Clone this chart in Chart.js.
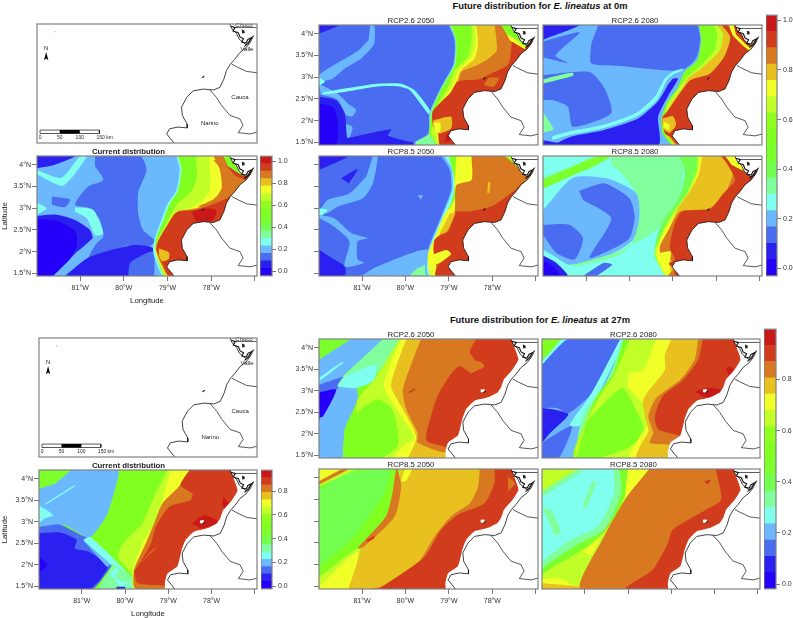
<!DOCTYPE html>
<html>
<head>
<meta charset="utf-8">
<title>Future distribution of E. lineatus</title>
<script src="https://cdn.jsdelivr.net/npm/chart.js@4/dist/chart.umd.js"></script>
<style>
  html, body { margin: 0; padding: 0; background: #fff; }
  body { position: relative; width: 793px; height: 618px; overflow: hidden; font-family: "Liberation Sans", Arial, sans-serif; }
  canvas { position: absolute; }
  .head { position: absolute; left: 340px; width: 400px; text-align: center; font-size: 9.4px; font-weight: bold; color: #111; line-height: 12px; }
</style>
</head>
<body>
<div class="head" style="top:0px">Future distribution for <i>E. lineatus</i> at 0m</div>
<div class="head" style="top:314px">Future distribution for <i>E. lineatus</i> at 27m</div>
<script>
// band colours, low to high
const bandColors = ['#2500f8', '#2a20f0', '#4a6cf0', '#6cb8ff', '#80ffee', '#80ff9c', '#72ff50', '#7cff2c',
    '#80ff20', '#90ff20', '#c0ff28', '#f0ff28', '#e8c020', '#d87820', '#d03c1c', '#c81818'];

const lonMin = -81.99, lonMax = -76.95, latMin = 1.44, latMax = 4.2;
const lonTicks = [-81, -80, -79, -78, -77];
const lonLabels = ['81°W', '80°W', '79°W', '78°W', ''];
const latTicks = [4, 3.5, 3, 2.5, 2, 1.5];
const latLabels = ['4°N', '3.5°N', '3°N', '2.5°N', '2°N', '1.5°N'];

// coastline and department borders, lon,lat pairs
const coast = [-77.58,4.21, -77.52,4.08, -77.42,3.98, -77.36,3.85, -77.28,3.78, -77.2,3.72, -77.12,3.82, -77.03,3.93,
    -77.1,3.78, -77.2,3.65, -77.34,3.54, -77.46,3.38, -77.56,3.27, -77.65,3.12, -77.71,2.92, -77.8,2.73, -77.95,2.67,
    -78.18,2.69, -78.41,2.65, -78.56,2.5, -78.68,2.27, -78.66,2.08, -78.55,1.88, -78.55,1.79, -78.76,1.81, -78.95,1.77,
    -79.02,1.65, -78.93,1.54, -78.85,1.44];
const coastDetail = [-77.55,4.15, -77.45,4.12, -77.5,4.04, -77.38,4.0, -77.34,3.9, -77.26,3.86, -77.3,3.78, -77.2,3.76,
    -77.16,3.84, -77.08,3.88, -77.14,3.76, -77.24,3.68];
const valleBorder = [-77.53,3.27, -77.42,3.21, -77.19,3.1, -76.95,3.07];
const naranoBorder = [-78.03,2.67, -77.88,2.5, -77.76,2.31, -77.57,2.08, -77.34,2.0, -77.27,1.85, -77.38,1.68, -77.11,1.65, -76.95,1.69];
const chocoBorder = [-77.5,4.12, -76.95,4.12];
const chocoIsle = [-77.3,4.07, -77.24,4.05, -77.23,3.99, -77.29,3.98];
const gorgona = [-78.21,2.95, -78.16,2.99];

// limit of the 27 m layer, offshore of the coast
const shelf27 = [-77.57,4.21, -77.4,3.73, -77.53,3.5, -77.73,3.27, -77.8,3.08, -77.88,2.96, -78.1,2.85, -78.41,2.77,
    -78.6,2.58, -78.69,2.35, -78.79,1.97, -79.02,1.8, -79.08,1.58, -79.06,1.44];
const bay27 = [-78.27,3.03, -78.18,3.04, -78.18,2.95, -78.27,2.97];

// scale bar and north arrow of the location maps
const scaleBox = [-81.92,1.74, -80.56,1.74, -80.56,1.66, -81.92,1.66];
const scaleBlack = [-81.47,1.74, -81.01,1.74, -81.01,1.66, -81.47,1.66];
const northArrow = [-81.78,3.55, -81.73,3.36, -81.78,3.4, -81.83,3.36];
const placeNames = ['Choco', 'Valle', 'Cauca', 'Narino', 'N', '0', '50', '100', '150 km'];
const placeLons = [-77.25, -77.18, -77.34, -78.03, -81.78, -81.92, -81.47, -81.01, -80.44];
const placeLats = [4.17, 3.61, 2.5, 1.89, 3.64, 1.57, 1.57, 1.57, 1.57];

// probability zones: [band, lon,lat pairs, 1 = runs on east to the edge]
const whole = [lonMin,latMax, lonMax,latMax, lonMax,latMin, lonMin,latMin];

const cur0 = [
    [3, whole],
    [1, [-81.99,4.2, -81.12,4.2, -81.58,4.0, -81.99,3.92]],
    [4, [-81.99,3.88, -81.43,3.7, -81.0,4.2, -80.84,4.2, -81.39,3.52, -81.99,3.78]],
    [4, [-81.99,3.12, -81.77,3.0, -81.99,2.85]],
    [2, [-81.65,3.27, -81.23,3.2, -81.35,3.02, -81.65,3.08]],
    [2, [-80.66,4.2, -79.63,4.2, -79.48,3.88, -79.67,3.38, -79.67,2.88, -79.56,2.5, -79.29,2.25, -79.48,2.08, -79.98,2.13,
        -80.55,1.77, -80.82,1.81, -80.63,2.19, -80.47,2.35, -80.55,2.73, -80.78,3.0, -81.12,3.08, -80.82,3.5, -80.47,3.65, -80.66,3.96]],
    [4, [-81.12,3.02, -80.7,2.96, -80.47,2.42, -80.66,2.38, -80.85,2.77, -81.12,2.92]],
    [1, [-81.99,2.82, -81.54,2.85, -81.12,2.73, -80.78,2.5, -80.72,2.28, -81.12,1.96, -81.58,1.44, -81.99,1.44]],
    [0, [-81.99,2.75, -81.5,2.7, -81.1,2.45, -81.1,2.05, -81.62,1.44, -81.99,1.44]],
    [1, [-81.35,1.44, -80.78,1.88, -79.8,2.15, -79.33,2.08, -79.37,1.65, -79.48,1.44]],
    [2, [-79.9,1.44, -79.85,1.75, -79.33,2.0, -79.3,1.44]],
    [3, [-81.62,1.44, -80.72,2.3, -80.62,2.28, -81.5,1.44]],
    [4, [-78.8,4.2, -78.72,3.9, -78.8,3.4, -79.0,3.1, -79.15,2.7, -79.3,2.27, -79.33,2.0, -79.22,1.65, -79.1,1.44], 1],
    [8, [-78.76,4.2, -78.68,3.9, -78.76,3.4, -78.95,3.1, -79.1,2.7, -79.27,2.27, -79.27,2.0, -79.17,1.65, -79.07,1.44], 1],
    [10, [-78.34,4.2, -78.34,3.65, -78.49,3.35, -78.76,3.12, -78.91,2.88, -79.06,2.58, -79.23,2.27, -79.25,2.0, -79.15,1.65, -79.05,1.44], 1],
    [11, [-78.05,4.2, -78.02,3.5, -78.18,3.19, -78.49,3.0, -78.79,2.92, -78.95,2.65, -79.18,2.31, -79.29,2.08, -79.18,1.73, -78.98,1.44], 1],
    [13, [-77.95,4.2, -77.8,3.88, -77.76,3.46, -77.95,3.19, -78.26,3.02, -78.49,2.97, -78.76,2.93, -78.95,2.63, -79.2,2.28, -79.27,2.08, -79.15,1.72, -78.97,1.44], 1],
    [14, [-77.95,4.2, -77.72,4.2, -77.62,3.95, -77.45,3.75, -77.2,3.62, -77.4,3.42, -77.65,3.22, -78.02,3.07, -78.4,2.95, -78.8,2.9,
        -79.0,2.62, -79.2,2.27, -79.25,2.03, -79.1,1.7, -78.95,1.44], 1],
    [13, [-77.95,4.1, -77.78,3.9, -77.72,3.45, -77.95,3.2, -78.3,3.04, -78.1,3.04, -77.82,3.2, -77.62,3.4, -77.62,3.85, -77.76,4.1]],
    [15, [-78.45,2.92, -78.1,3.0, -77.88,2.95, -77.97,2.72, -78.35,2.7]],
    [12, [-79.2,2.07, -78.97,1.98, -78.97,1.83, -79.12,1.78, -79.2,1.9]],
    [8, [-77.72,4.2, -77.55,4.2, -77.38,3.92, -77.2,3.75, -77.3,3.76, -77.62,3.97]],
];

const rcp26y50 = [
    [2, whole],
    [1, [-81.99,4.2, -81.52,4.2, -81.99,4.0]],
    [3, [-80.81,4.2, -80.72,4.2, -80.72,3.77, -81.02,3.43, -81.4,3.2, -81.7,2.95, -81.99,2.92, -81.99,3.05, -81.65,3.28, -81.4,3.42, -81.1,3.6, -80.85,3.85]],
    [3, [-81.99,2.85, -81.56,2.62, -81.33,2.4, -81.14,2.25, -81.22,2.1, -81.37,2.13, -81.56,2.48, -81.95,2.6]],
    [3, [-81.45,1.95, -81.22,1.85, -81.3,1.6, -81.42,1.6]],
    [1, [-81.99,2.55, -81.6,2.47, -81.4,2.17, -81.35,1.65, -81.3,1.44, -81.99,1.44]],
    [1, [-81.4,1.58, -80.33,1.8, -80.4,1.65, -79.65,1.44, -81.4,1.44]],
    [0, [-81.99,2.4, -81.65,2.3, -81.55,1.9, -81.6,1.44, -81.99,1.44]],
    [4, [-81.9,2.65, -81.4,2.74, -80.64,2.85, -80.1,2.85, -79.79,2.7, -79.41,2.2, -79.45,2.13, -79.9,2.7, -80.18,2.79, -80.6,2.79, -81.4,2.66, -81.9,2.6]],
    [4, [-81.99,3.0, -81.85,2.9, -81.99,2.8]],
    [3, [-79.0,4.2, -78.87,3.85, -78.9,3.3, -79.18,2.78, -79.45,2.17, -79.48,1.7, -79.8,1.5, -79.8,1.44], 1],
    [5, [-78.98,4.2, -78.85,3.85, -78.88,3.3, -79.16,2.78, -79.43,2.17, -79.46,1.7, -79.75,1.52, -79.75,1.44], 1],
    [8, [-78.95,4.2, -78.83,3.85, -78.85,3.3, -79.14,2.78, -79.39,2.2, -79.45,1.7, -79.35,1.55, -79.3,1.44], 1],
    [10, [-78.48,4.2, -78.48,3.85, -78.56,3.47, -78.87,3.16, -79.02,2.78, -79.33,2.24, -79.37,1.94, -79.41,1.7, -79.33,1.55, -79.25,1.44], 1],
    [11, [-78.39,4.2, -78.39,3.77, -78.48,3.47, -78.75,3.2, -78.9,2.85, -79.24,2.28, -79.33,1.94, -79.29,1.7, -79.2,1.44], 1],
    [12, [-78.37,4.2, -78.33,3.77, -78.41,3.43, -78.72,3.16, -78.85,2.85, -79.2,2.28, -79.3,2.05, -79.25,1.7, -79.15,1.44], 1],
    [13, [-77.95,4.2, -77.9,3.62, -78.14,3.39, -78.37,3.27, -78.72,3.12, -78.79,2.85, -79.15,2.28, -79.28,2.1, -79.2,1.7, -79.1,1.44], 1],
    [14, [-77.75,4.2, -77.56,4.0, -77.56,3.72, -77.63,3.3, -78.0,3.1, -78.3,2.95, -78.8,2.9, -78.95,2.66, -79.37,2.22, -79.37,1.9, -79.25,1.7, -79.2,1.44], 1],
    [13, [-78.08,2.99, -77.85,2.98, -77.97,2.78, -78.2,2.82]],
    [12, [-79.37,2.0, -78.95,2.09, -78.95,1.82, -79.26,1.7, -79.33,1.85]],
    [11, [-79.37,1.95, -79.2,1.95, -79.2,1.75, -79.3,1.72]],
    [15, [-79.05,1.7, -78.9,1.72, -78.95,1.55, -79.1,1.5]],
    [8, [-77.8,4.2, -77.6,4.2, -77.2,3.77, -77.25,3.65, -77.65,3.95]],
    [11, [-77.67,4.0, -77.25,3.72, -77.25,3.65, -77.6,3.85]],
];

const rcp26y80 = [
    [3, whole],
    [1, [-81.99,4.2, -81.15,4.2, -81.99,3.86]],
    [2, [-80.72,4.2, -78.45,4.2, -78.37,3.92, -78.45,3.47, -78.75,3.16, -79.67,3.2, -80.25,3.26, -80.88,3.32, -80.88,3.77]],
    [2, [-81.99,3.82, -81.15,4.03, -81.7,3.5, -81.4,3.32, -81.99,3.45]],
    [2, [-81.99,3.05, -80.92,3.12, -80.57,2.74, -80.42,2.17, -81.3,1.86, -81.42,2.32, -81.76,2.47, -81.99,2.47]],
    [5, [-81.99,2.95, -81.6,3.05, -81.3,3.1, -81.3,3.03, -81.99,2.85]],
    [5, [-81.99,2.2, -81.75,1.8, -81.99,1.72]],
    [1, [-79.0,2.97, -78.88,2.97, -79.1,2.59, -79.34,2.09, -79.34,1.44, -81.7,1.44, -81.35,1.63, -80.6,1.78, -79.8,2.05, -79.34,2.45, -79.1,2.85]],
    [1, [-81.99,1.55, -81.4,1.44, -81.99,1.44]],
    [4, [-78.76,3.16, -78.98,3.07, -79.14,2.93, -79.37,2.47, -79.84,2.09, -80.62,1.82, -81.38,1.67, -81.77,1.56, -81.77,1.64, -81.38,1.75, -80.62,1.9,
        -79.84,2.18, -79.4,2.58, -79.2,2.95, -79.0,3.13, -78.76,3.2]],
    [3, [-78.42,4.2, -78.37,3.85, -78.46,3.39, -78.76,3.16, -78.88,2.78, -79.15,2.4, -79.27,2.0, -79.27,1.7, -79.05,1.44], 1],
    [8, [-78.4,4.2, -78.35,3.85, -78.44,3.39, -78.74,3.12, -78.88,2.78, -79.15,2.4, -79.27,2.0, -79.23,1.7, -79.0,1.44], 1],
    [10, [-78.07,4.2, -77.98,4.0, -78.05,3.62, -78.36,3.27, -78.68,3.0, -78.84,2.78, -79.11,2.4, -79.21,2.0, -79.16,1.7, -78.95,1.44], 1],
    [12, [-77.99,4.2, -77.85,4.0, -77.92,3.62, -78.3,3.24, -78.65,2.97, -78.76,2.78, -79.03,2.4, -79.21,2.0, -79.14,1.7, -78.93,1.44], 1],
    [14, [-77.88,4.2, -77.68,3.92, -77.82,3.47, -78.15,3.08, -78.6,2.93, -78.84,2.63, -79.11,2.24, -79.25,2.05, -79.18,1.7, -79.07,1.63, -78.88,1.44], 1],
    [11, [-77.72,4.2, -77.55,4.2, -77.15,3.8, -77.25,3.62, -77.62,3.95]],
    [14, [-77.6,4.2, -77.45,4.2, -77.15,3.8, -77.25,3.7, -77.55,3.98]],
    [12, [-79.25,2.05, -79.0,2.1, -78.93,1.9, -79.08,1.72, -79.22,1.8]],
    [11, [-79.22,1.98, -79.08,1.9, -79.1,1.78, -79.22,1.85]],
];

const rcp85y50 = [
    [2, whole],
    [1, [-81.99,4.2, -81.3,4.2, -81.99,3.88]],
    [1, [-81.48,3.69, -81.1,3.9, -81.3,3.57]],
    [3, [-80.75,4.2, -80.64,4.2, -80.75,3.57, -80.98,3.23, -81.56,3.04, -81.79,2.89, -81.99,2.89, -81.79,3.19, -81.29,3.34, -80.9,3.73]],
    [4, [-81.99,3.0, -81.79,2.96, -81.99,2.78]],
    [3, [-81.99,2.85, -81.64,2.77, -81.25,2.43, -80.87,2.31, -81.1,2.24, -81.1,1.82, -80.95,1.74, -81.4,1.66, -81.29,2.24, -81.7,2.62, -81.99,2.77]],
    [1, [-81.99,2.05, -81.75,1.89, -81.4,1.66, -81.4,1.44, -81.99,1.44]],
    [3, [-81.02,1.44, -80.65,1.66, -79.5,2.05, -79.5,1.44]],
    [3, [-79.72,3.3, -79.6,3.3, -79.65,3.2]],
    [5, [-79.9,1.44, -79.75,1.6, -79.45,1.7, -79.45,1.44]],
    [3, [-79.18,4.2, -78.98,3.88, -78.95,3.42, -79.18,2.81, -79.48,2.05, -79.5,1.44], 1],
    [4, [-79.1,4.2, -78.93,3.88, -78.92,3.42, -79.15,2.81, -79.45,2.05, -79.45,1.44], 1],
    [8, [-79.0,4.2, -78.87,3.65, -78.92,3.2, -79.13,2.75, -79.42,2.05, -79.42,1.6, -79.25,1.44], 1],
    [11, [-78.83,4.2, -78.87,3.57, -78.87,3.19, -79.1,2.85, -79.33,2.31, -79.48,1.97, -79.48,1.7, -79.4,1.44], 1],
    [13, [-78.48,4.2, -78.48,3.65, -78.83,3.53, -78.87,2.92, -79.1,2.5, -79.33,2.27, -79.33,1.95, -79.3,1.7, -79.2,1.44], 1],
    [14, [-77.3,3.6, -77.5,3.4, -78.0,3.05, -78.5,2.93, -78.88,2.9, -79.0,2.5, -79.33,2.27, -79.33,1.9, -79.06,2.0, -78.95,1.92, -79.25,1.7, -79.3,1.44, -76.9,1.44, -76.9,3.6]],
    [11, [-79.46,1.9, -79.06,2.04, -78.95,1.95, -79.25,1.72, -79.46,1.72]],
    [12, [-78.98,2.88, -78.85,2.9, -79.05,2.45, -79.22,2.4]],
    [12, [-78.1,3.6, -78.05,3.6, -78.07,3.35, -78.12,3.35]],
    [8, [-77.72,4.2, -77.52,4.2, -77.1,3.84, -77.22,3.8]],
    [11, [-77.66,4.2, -77.58,4.2, -77.16,3.86, -77.22,3.82]],
];

const rcp85y80 = [
    [4, whole],
    [5, [-80.42,4.2, -78.84,4.2, -78.76,3.88, -78.88,3.19, -79.38,2.5, -79.92,2.2, -79.77,2.81, -79.84,3.34, -80.15,3.77, -80.42,4.0]],
    [5, [-81.99,3.55, -81.3,3.82, -80.76,4.05, -80.42,4.2, -80.76,4.2, -81.3,3.98, -81.99,3.7]],
    [7, [-81.99,3.65, -81.3,3.95, -80.76,4.18, -80.42,4.2, -80.84,3.95, -81.3,3.76, -81.99,3.45]],
    [3, [-81.99,2.95, -81.3,3.7, -80.5,3.68, -79.84,3.34, -79.77,2.81, -79.92,2.27, -80.53,1.89, -81.38,1.7, -81.72,1.89, -81.99,2.05]],
    [2, [-81.16,3.4, -80.57,3.57, -80.0,3.23, -79.88,2.81, -80.0,2.31, -80.42,2.05, -80.92,1.86, -80.42,2.77, -81.07,3.19]],
    [2, [-81.99,2.62, -81.38,2.62, -81.07,2.31, -81.26,1.82, -81.68,1.97, -81.99,2.39]],
    [1, [-81.99,1.91, -81.68,1.74, -81.42,1.44, -81.99,1.44]],
    [0, [-81.99,1.8, -81.75,1.65, -81.6,1.44, -81.99,1.44]],
    [2, [-81.07,1.44, -80.6,1.74, -80.4,1.7, -80.76,1.44]],
    [5, [-81.35,1.68, -80.25,2.0, -79.92,2.2, -80.25,1.92, -81.25,1.65]],
    [6, [-78.84,4.2, -78.72,3.8, -78.88,3.19, -79.2,2.75, -79.35,2.4, -79.42,1.9, -79.1,1.44], 1],
    [10, [-78.44,4.2, -78.45,3.88, -78.68,3.34, -78.95,2.96, -79.22,2.5, -79.42,1.97, -79.3,1.66, -79.15,1.44], 1],
    [11, [-78.38,4.2, -78.42,3.88, -78.62,3.34, -78.9,2.96, -79.18,2.5, -79.38,1.97, -79.3,1.7, -79.1,1.44], 1],
    [12, [-78.33,4.2, -78.4,3.8, -78.6,3.4, -78.88,3.0, -79.1,2.5, -79.3,2.1, -79.28,1.88, -79.1,1.8, -79.0,1.44], 1],
    [13, [-77.92,4.2, -77.61,3.88, -77.8,3.34, -78.15,3.0, -78.84,2.92, -79.1,2.5, -79.3,2.12, -79.26,1.89, -79.05,1.82, -79.0,1.6, -79.1,1.44], 1],
    [14, [-77.88,4.2, -77.76,4.03, -77.57,3.65, -77.84,3.34, -78.15,2.98, -78.8,2.92, -78.99,2.54, -79.07,2.08, -78.95,1.82, -79.1,1.72, -78.95,1.6, -78.95,1.44], 1],
    [11, [-77.8,4.2, -77.6,4.2, -77.3,3.9, -77.35,3.85, -77.65,4.0]],
    [11, [-79.3,1.97, -79.05,2.0, -79.1,1.72, -79.25,1.75]],
];

const cur27 = [
    [8, whole],
    [7, [-81.99,4.2, -81.24,4.2, -81.62,3.92, -81.99,3.75]],
    [3, [-81.24,4.2, -80.17,4.2, -80.24,3.73, -80.44,3.12, -80.82,2.62, -81.05,2.73, -81.39,2.92, -81.99,2.92, -81.99,3.73, -81.62,3.88]],
    [4, [-81.99,3.38, -81.66,3.15, -81.85,3.08, -81.99,2.97]],
    [4, [-81.85,3.42, -81.16,3.85, -81.16,3.82, -81.85,3.39]],
    [2, [-81.99,2.88, -81.5,2.93, -81.0,2.68, -80.82,2.6, -80.3,2.05, -80.45,1.78, -80.75,1.44, -81.99,1.44]],
    [1, [-81.99,2.73, -81.5,2.75, -81.12,2.58, -81.16,2.38, -80.85,2.31, -80.4,1.96, -80.82,1.44, -81.99,1.44]],
    [0, [-81.99,2.19, -81.8,2.0, -81.99,1.8]],
    [3, [-80.95,2.55, -80.82,2.62, -80.3,2.05, -80.42,1.95]],
    [4, [-80.97,2.58, -80.82,2.65, -80.24,2.12, -79.82,1.65, -79.86,1.53, -80.32,2.0]],
    [5, [-80.28,2.04, -79.75,1.65, -79.75,1.44, -80.59,1.44, -80.36,1.88]],
    [4, [-80.36,1.8, -80.13,1.96, -80.2,1.69, -79.8,1.54, -80.13,1.52]],
    [1, [-80.2,1.49, -80.0,1.49, -80.0,1.44, -80.2,1.44]],
    [10, [-79.02,4.2, -79.37,3.5, -79.6,2.96, -79.98,2.58, -80.17,2.19, -79.85,1.8, -79.79,1.44], 1],
    [11, [-78.95,4.2, -79.14,3.5, -79.33,2.96, -79.6,2.5, -79.79,1.96, -79.79,1.73, -79.75,1.44], 1],
    [13, [-78.49,4.2, -78.76,3.81, -79.14,3.42, -79.33,2.96, -79.52,2.5, -79.79,1.88, -79.75,1.44], 1],
    [14, [-78.51,4.2, -78.72,3.85, -78.44,3.64, -78.49,3.5, -78.98,3.35, -79.29,2.88, -79.4,2.5, -79.71,1.96, -79.79,1.85, -79.71,1.58, -79.06,1.51, -79.06,1.44], 1],
    [13, [-79.24,2.43, -79.6,2.08, -79.66,2.02, -79.4,2.32]],
    [15, [-78.45,2.96, -78.18,3.15, -77.88,3.04, -77.88,2.96, -78.1,2.88, -78.26,2.85]],
    [15, [-77.73,3.58, -77.6,3.42, -77.7,3.3, -77.75,3.4]],
];

const rcp26y50d = [
    [8, whole],
    [7, [-81.99,4.2, -81.25,4.2, -81.99,3.72]],
    [3, [-81.25,4.2, -80.52,4.2, -81.4,3.37, -81.56,3.1, -81.14,3.07, -81.1,2.8, -81.4,2.1, -81.43,1.44, -81.99,1.44, -81.99,3.72]],
    [2, [-81.99,3.14, -81.37,3.33, -81.6,3.0, -81.9,2.65, -81.99,2.25]],
    [0, [-81.99,2.96, -81.6,3.02, -81.9,2.4, -81.99,2.37]],
    [5, [-80.52,4.2, -80.14,4.2, -80.64,3.4, -80.98,3.14, -81.56,3.1, -81.4,3.37]],
    [4, [-81.4,3.33, -80.7,3.6, -80.72,3.25, -81.14,3.06, -81.56,3.1]],
    [4, [-81.99,3.3, -81.45,3.68, -81.43,3.65, -81.99,3.22]],
    [10, [-80.14,4.2, -80.62,3.4, -80.72,3.25, -81.1,2.8, -81.14,2.3, -81.4,1.44], 1],
    [8, [-81.0,2.6, -80.64,2.8, -80.33,2.6, -80.18,2.1, -80.18,1.72, -80.56,1.44, -81.4,1.44, -81.4,2.1]],
    [11, [-80.1,4.2, -80.37,3.56, -80.5,3.1, -80.25,2.64, -79.95,2.18, -79.79,1.9, -80.02,1.75, -80.25,1.44], 1],
    [12, [-79.98,4.2, -80.2,3.6, -80.33,3.1, -80.1,2.64, -79.87,2.22, -79.75,1.9, -79.9,1.52, -79.95,1.44], 1],
    [13, [-79.64,4.2, -79.83,3.72, -80.06,3.02, -79.98,2.56, -79.72,2.02, -79.72,1.8, -79.06,1.56, -76.9,1.5], 1],
    [14, [-78.37,4.2, -78.52,3.9, -78.33,3.6, -78.8,3.55, -79.2,3.0, -79.37,2.56, -79.52,1.85, -79.06,1.68, -79.06,1.5], 1],
    [13, [-78.79,3.62, -78.29,3.68, -78.18,3.56, -78.49,3.4]],
    [12, [-79.0,1.44, -79.0,1.55, -76.9,1.55, -76.9,1.44]],
    [14, [-79.92,2.98, -79.78,3.06, -79.78,3.02, -79.92,2.94]],
];

const rcp26y80d = [
    [3, whole],
    [8, [-81.99,4.2, -81.54,4.2, -81.99,3.7]],
    [4, [-81.54,4.2, -81.38,4.2, -81.99,3.6, -81.99,3.68]],
    [2, [-81.99,3.6, -81.38,4.2, -80.18,4.2, -80.84,2.95, -81.38,2.48, -81.65,2.6, -81.99,2.6]],
    [1, [-81.99,2.6, -81.69,2.56, -81.38,2.45, -81.8,2.02, -81.99,1.79]],
    [2, [-81.99,1.8, -81.3,2.18, -81.6,1.44, -81.99,1.44]],
    [4, [-80.18,4.2, -80.84,2.95, -81.35,2.2, -81.1,2.2, -80.7,2.9, -80.05,4.2]],
    [5, [-80.1,4.2, -80.5,3.2, -81.0,2.5, -81.15,2.0, -81.2,1.44, -81.0,1.44, -80.9,2.2, -80.4,3.2, -80.0,4.2]],
    [8, [-80.11,4.2, -80.34,3.41, -80.73,2.87, -80.96,2.33, -81.23,1.44], 1],
    [10, [-79.96,4.2, -80.3,3.41, -80.65,2.87, -80.96,2.3, -81.2,1.44], 1],
    [8, [-80.96,2.28, -80.14,3.05, -79.7,2.3, -79.63,2.02, -80.0,1.68, -80.7,1.44, -81.2,1.44]],
    [11, [-79.35,4.2, -79.65,3.48, -79.96,3.41, -80.0,3.1, -79.65,2.68, -79.53,2.25, -79.72,1.95, -79.96,1.44], 1],
    [12, [-79.0,4.2, -79.15,3.83, -79.15,3.48, -79.65,2.79, -79.57,2.25, -79.53,2.06, -79.72,1.72, -79.8,1.44], 1],
    [13, [-78.38,4.2, -78.46,3.72, -78.8,3.25, -79.35,2.83, -79.53,2.41, -79.42,2.02, -79.5,1.79, -78.77,1.75, -76.9,1.75], 1],
    [14, [-78.27,4.2, -78.38,3.72, -78.73,3.25, -79.2,2.87, -79.38,2.41, -79.3,2.1, -78.8,1.95, -78.77,1.83, -76.9,1.83], 1],
    [15, [-78.46,2.98, -78.2,3.06, -77.85,3.02, -78.04,2.83, -78.27,2.87]],
    [15, [-77.73,3.52, -77.62,3.56, -77.53,3.41, -77.65,3.29]],
];

const rcp85y50d = [
    [8, whole],
    [6, [-81.99,3.72, -81.4,4.1, -80.37,4.2, -80.49,3.65, -81.18,2.65, -81.99,1.95]],
    [10, [-81.99,3.8, -81.15,4.2, -81.99,4.2]],
    [11, [-81.99,4.2, -81.3,4.2, -81.99,3.88]],
    [13, [-81.99,3.84, -81.3,4.2, -81.45,4.2, -81.99,3.92]],
    [10, [-81.99,1.72, -81.1,2.38, -81.0,2.3, -81.3,1.44, -81.99,1.44]],
    [11, [-81.99,1.49, -81.1,2.3, -81.3,1.44, -81.99,1.44]],
    [11, [-80.1,4.2, -79.9,4.2, -80.05,3.95, -80.2,3.9]],
    [12, [-80.1,4.2, -80.25,3.65, -80.4,3.03, -81.0,2.42, -81.14,1.95, -81.3,1.49, -81.3,1.44], 1],
    [11, [-80.02,4.2, -79.85,4.2, -80.0,3.92, -80.1,3.92]],
    [13, [-80.18,4.2, -80.1,3.8, -80.25,3.11, -80.95,2.42, -81.1,2.38, -80.45,3.11, -80.3,3.65, -80.22,4.2]],
    [13, [-78.29,4.2, -78.33,3.8, -78.52,3.41, -78.95,3.11, -79.33,2.65, -79.72,2.03, -80.56,1.49, -80.79,1.44], 1],
    [14, [-77.95,4.2, -77.95,3.88, -78.18,3.41, -78.79,3.15, -79.18,2.8, -79.56,2.18, -80.41,1.57, -80.6,1.44], 1],
    [13, [-77.64,4.03, -77.48,3.87, -77.64,3.68]],
    [14, [-80.9,2.57, -80.72,2.66, -80.72,2.6, -80.88,2.52]],
];

const rcp85y80d = [
    [4, whole],
    [10, [-81.99,4.2, -81.16,4.2, -81.99,3.68]],
    [5, [-81.99,3.68, -81.16,4.2, -81.0,4.2, -81.99,3.55]],
    [5, [-81.05,3.34, -80.82,3.92, -80.74,3.88, -80.97,3.3]],
    [5, [-81.97,3.3, -81.78,3.26, -81.55,2.72, -81.7,2.68]],
    [5, [-80.34,4.2, -80.32,3.65, -80.7,2.88, -81.32,2.57, -81.99,2.03, -81.99,1.44], 1],
    [7, [-80.2,4.2, -80.16,3.65, -80.55,2.8, -81.12,2.49, -81.99,1.88, -81.99,1.44], 1],
    [10, [-80.0,4.2, -80.05,3.65, -80.43,2.88, -81.05,2.34, -81.99,1.76, -81.99,1.44], 1],
    [11, [-79.51,4.2, -80.05,3.53, -80.0,4.2]],
    [11, [-81.05,2.3, -80.65,2.6, -80.85,2.2]],
    [11, [-81.99,1.68, -81.58,1.68, -81.28,1.53, -81.08,1.49, -81.08,1.44, -81.99,1.44]],
    [12, [-81.99,1.57, -81.1,1.49, -81.1,1.44, -81.99,1.44]],
    [13, [-79.51,4.2, -80.05,3.53, -80.58,2.6, -81.08,1.44], 1],
    [12, [-80.25,3.18, -80.55,2.75, -80.6,2.72, -80.3,3.12]],
    [14, [-77.97,4.2, -77.85,3.49, -78.2,3.26, -78.97,2.8, -79.08,2.49, -79.43,1.88, -80.05,1.44], 1],
    [14, [-78.24,3.92, -78.08,3.95, -78.16,3.84]],
];

// colour key edges for the four keys
const keyEdgesCur0 = [-0.04, 0.028, 0.096, 0.164, 0.232, 0.3, 0.368, 0.436, 0.504, 0.572, 0.64, 0.708, 0.776, 0.844, 0.912, 0.98, 1.048];
const keyEdgesFut0 = [-0.03, 0.036, 0.101, 0.167, 0.233, 0.299, 0.364, 0.43, 0.496, 0.561, 0.627, 0.693, 0.758, 0.824, 0.89, 0.956, 1.021];
const keyEdgesCur27 = [-0.022, 0.04, 0.103, 0.165, 0.227, 0.29, 0.352, 0.415, 0.477, 0.539, 0.602, 0.664, 0.727, 0.789, 0.851, 0.914, 0.976];
const keyEdgesFut27 = [-0.018, 0.045, 0.109, 0.172, 0.236, 0.299, 0.362, 0.426, 0.489, 0.553, 0.616, 0.679, 0.743, 0.806, 0.87, 0.933, 0.996];
const keyTicks = [1, 0.8, 0.6, 0.4, 0.2, 0];

function toPoints(flat) {
    const pts = [];
    for (let i = 0; i < flat.length; i += 2) pts.push({ x: flat[i], y: flat[i + 1] });
    return pts;
}

function area(flat, color, tension) {
    return { data: toPoints(flat), showLine: true, fill: 'shape', backgroundColor: color, borderColor: color, borderWidth: 0, pointRadius: 0, tension: tension || 0 };
}

function line(flat, width, color) {
    return { data: toPoints(flat), showLine: true, fill: false, borderColor: color || '#111', borderWidth: width, pointRadius: 0 };
}

function layerDatasets(layers) {
    return layers.map(([band, flat, runEast]) => {
        let pts = flat;
        if (runEast) {
            const lastLat = flat[flat.length - 1];
            pts = flat.concat([-76.9, lastLat, -76.9, flat[1]]);
        }
        return area(pts, bandColors[band], flat === whole ? 0 : 0.22);
    });
}

function shelfMask() {
    const lastLat = shelf27[shelf27.length - 1];
    return area(shelf27.concat([-76.9, lastLat, -76.9, shelf27[1]]), '#fff', 0.15);
}

function landLines() {
    return [
        line(coast, 0.8), line(coastDetail, 1.1), line(valleBorder, 0.7), line(naranoBorder, 0.7),
        line(chocoBorder, 0.7), area(chocoIsle, '#222'), line(gorgona, 1.2)
    ];
}

const framePlugin = {
    id: 'frame',
    afterDraw(chart) {
        const a = chart.chartArea, ctx = chart.ctx;
        ctx.save();
        ctx.strokeStyle = '#808080';
        ctx.lineWidth = 1.2;
        ctx.strokeRect(a.left, a.top, a.right - a.left, a.bottom - a.top);
        ctx.restore();
    }
};

// place names, scale bar numbers for the location maps
const namesPlugin = {
    id: 'names',
    afterDatasetsDraw(chart, args, opts) {
        if (!opts.on) return;
        const ctx = chart.ctx;
        ctx.save();
        ctx.fillStyle = '#222';
        ctx.textAlign = 'center';
        ctx.textBaseline = 'middle';
        placeNames.forEach((name, i) => {
            ctx.font = (i > 4 ? '5px' : '6px') + ' "Liberation Sans"';
            ctx.fillText(name, chart.scales.x.getPixelForValue(placeLons[i]), chart.scales.y.getPixelForValue(placeLats[i]));
        });
        ctx.restore();
    }
};

function addMap(p) {
    const L = p.left || 35, R = 4, T = 12, B = 30;
    const cv = document.createElement('canvas');
    const w = p.x1 - p.x0 + L + R, h = p.y1 - p.y0 + T + B;
    cv.width = w; cv.height = h;
    cv.style.left = (p.x0 - L) + 'px';
    cv.style.top = (p.y0 - T) + 'px';
    cv.style.width = w + 'px';
    cv.style.height = h + 'px';
    document.body.appendChild(cv);

    const sets = p.datasets;
    sets.forEach((d, i) => { d.order = -i; });

    new Chart(cv, {
        type: 'scatter',
        data: { datasets: sets },
        plugins: [framePlugin, namesPlugin],
        options: {
            responsive: false,
            animation: false,
            events: [],
            layout: { padding: { top: p.title ? 0 : T, right: R } },
            plugins: {
                legend: { display: false },
                tooltip: { enabled: false },
                names: { on: !!p.inset },
                title: {
                    display: !!p.title,
                    text: p.title || '',
                    color: '#222',
                    font: { family: 'Liberation Sans', size: 7.8, weight: p.bold ? 'bold' : 'normal', lineHeight: 1 },
                    padding: { top: 4.2, bottom: 0 }
                }
            },
            scales: {
                x: {
                    type: 'linear', min: lonMin, max: lonMax,
                    afterBuildTicks(s) { s.ticks = lonTicks.map(v => ({ value: v })); },
                    afterFit(s) { s.height = B; },
                    border: { display: false },
                    grid: { drawOnChartArea: false, drawTicks: !!p.xTicks, tickLength: 5, tickColor: '#555', tickWidth: 0.8 },
                    ticks: {
                        display: !!p.xLabels, autoSkip: false, maxRotation: 0, padding: 3, color: '#333',
                        font: { family: 'Liberation Sans', size: 7 },
                        callback: v => lonLabels[lonTicks.indexOf(v)]
                    },
                    title: { display: !!p.xTitle, text: 'Longitude', color: '#222', padding: 0, font: { family: 'Liberation Sans', size: 7.7 } }
                },
                y: {
                    type: 'linear', min: latMin, max: latMax,
                    afterBuildTicks(s) { s.ticks = latTicks.map(v => ({ value: v })); },
                    afterFit(s) { s.width = L; },
                    border: { display: false },
                    grid: { drawOnChartArea: false, drawTicks: !!p.yTicks, tickLength: 5, tickColor: '#555', tickWidth: 0.8 },
                    ticks: {
                        display: !!p.yLabels, autoSkip: false, maxRotation: 0, padding: 1, color: '#333',
                        font: { family: 'Liberation Sans', size: 7 },
                        callback: v => latLabels[latTicks.indexOf(v)]
                    },
                    title: { display: !!p.yTitle, text: 'Latitude', color: '#222', padding: 0, font: { family: 'Liberation Sans', size: 7.7 } }
                }
            }
        }
    });
}

function addKey(k) {
    const T = 6, R = 22;
    const cv = document.createElement('canvas');
    const w = k.x1 - k.x0 + R, h = k.y1 - k.y0 + 2 * T;
    cv.width = w; cv.height = h;
    cv.style.left = k.x0 + 'px';
    cv.style.top = (k.y0 - T) + 'px';
    cv.style.width = w + 'px';
    cv.style.height = h + 'px';
    document.body.appendChild(cv);

    const sets = bandColors.map((c, i) => ({
        data: [[k.edges[i], k.edges[i + 1]]],
        backgroundColor: c, borderWidth: 0, barPercentage: 1, categoryPercentage: 1, grouped: false
    }));

    new Chart(cv, {
        type: 'bar',
        data: { labels: [''], datasets: sets },
        plugins: [framePlugin],
        options: {
            responsive: false,
            animation: false,
            events: [],
            layout: { padding: { top: T, bottom: T } },
            plugins: { legend: { display: false }, tooltip: { enabled: false } },
            scales: {
                x: { display: false },
                y: {
                    position: 'right', min: k.edges[0], max: k.edges[16],
                    afterBuildTicks(s) { s.ticks = k.ticks.map(v => ({ value: v })); },
                    afterFit(s) { s.width = R; },
                    border: { display: false },
                    grid: { drawOnChartArea: false, tickLength: 4, tickColor: '#555', tickWidth: 0.8 },
                    ticks: {
                        autoSkip: false, padding: 2, color: '#333',
                        font: { family: 'Liberation Sans', size: 7 },
                        callback: v => v.toFixed(1)
                    }
                }
            }
        }
    });
}

function insetSets() {
    return [
        ...landLines(),
        area([-81.59, 4.03, -81.57, 4.03, -81.57, 4.01, -81.59, 4.01], '#888'),
        line(scaleBox.concat(scaleBox.slice(0, 2)), 0.7),
        area(scaleBlack, '#000'),
        area(northArrow, '#000')
    ];
}

function mapSets(layers) {
    return [...layerDatasets(layers), area(coast.concat([-76.9, 1.44, -76.9, 4.21]), '#fff'), ...landLines()];
}

function mapSets27(layers) {
    return [...layerDatasets(layers), shelfMask(), area(bay27, '#fff'), ...landLines()];
}

// top block, 0 m
addMap({ x0: 37, x1: 257, y0: 24, y1: 143, left: 37, inset: true, datasets: insetSets() });
addMap({ x0: 37, x1: 257, y0: 156, y1: 276, left: 37, title: 'Current distribution', bold: true, xTicks: 1, xLabels: 1, yTicks: 1, yLabels: 1, xTitle: 1, yTitle: 1, datasets: mapSets(cur0) });
addMap({ x0: 319, x1: 538, y0: 25, y1: 145, title: 'RCP2.6 2050', yTicks: 1, yLabels: 1, datasets: mapSets(rcp26y50) });
addMap({ x0: 543, x1: 762, y0: 25, y1: 145, title: 'RCP2.6 2080', datasets: mapSets(rcp26y80) });
addMap({ x0: 319, x1: 538, y0: 156, y1: 276, title: 'RCP8.5 2050', xTicks: 1, xLabels: 1, yTicks: 1, datasets: mapSets(rcp85y50) });
addMap({ x0: 543, x1: 762, y0: 156, y1: 276, title: 'RCP8.5 2080', xTicks: 1, datasets: mapSets(rcp85y80) });
addKey({ x0: 260, x1: 272, y0: 156, y1: 276, edges: keyEdgesCur0, ticks: keyTicks });
addKey({ x0: 766, x1: 777, y0: 15, y1: 276, edges: keyEdgesFut0, ticks: keyTicks });

// bottom block, 27 m
addMap({ x0: 39, x1: 257, y0: 338, y1: 457, left: 39, inset: true, datasets: insetSets() });
addMap({ x0: 39, x1: 257, y0: 470, y1: 589, left: 39, title: 'Current distribution', bold: true, xTicks: 1, xLabels: 1, yTicks: 1, yLabels: 1, xTitle: 1, yTitle: 1, datasets: mapSets27(cur27) });
addMap({ x0: 319, x1: 538, y0: 339, y1: 458, title: 'RCP2.6 2050', yTicks: 1, yLabels: 1, datasets: mapSets27(rcp26y50d) });
addMap({ x0: 542, x1: 760, y0: 339, y1: 458, title: 'RCP2.6 2080', datasets: mapSets27(rcp26y80d) });
addMap({ x0: 319, x1: 538, y0: 469, y1: 589, title: 'RCP8.5 2050', xTicks: 1, xLabels: 1, yTicks: 1, datasets: mapSets27(rcp85y50d) });
addMap({ x0: 542, x1: 760, y0: 469, y1: 589, title: 'RCP8.5 2080', xTicks: 1, datasets: mapSets27(rcp85y80d) });
addKey({ x0: 261, x1: 272, y0: 470, y1: 589, edges: keyEdgesCur27, ticks: keyTicks.slice(1) });
addKey({ x0: 764, x1: 776, y0: 329, y1: 589, edges: keyEdgesFut27, ticks: keyTicks.slice(1) });
</script>
</body>
</html>
